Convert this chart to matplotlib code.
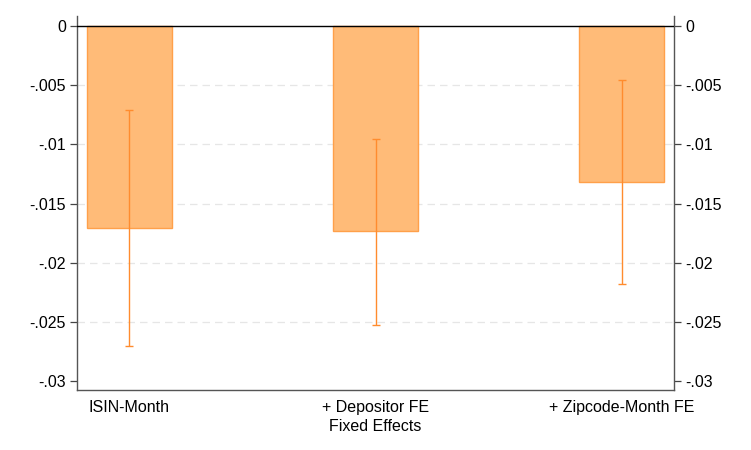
import numpy as np
import matplotlib
matplotlib.use("Agg")
import matplotlib.pyplot as plt
from matplotlib.ticker import FuncFormatter

# Datos
categorias = ["ISIN-Month", "+ Depositor FE", "+ Zipcode-Month FE"]
coeficientes = [-0.01707, -0.01733, -0.01318]
ic_sup = [-0.0071, -0.00955, -0.00456]
ic_inf = [-0.02704, -0.02527, -0.0218]
ticks_y = [0, -0.005, -0.01, -0.015, -0.02, -0.025, -0.03]

plt.rcParams['font.family'] = ['Liberation Sans', 'DejaVu Sans']


def fmt_stata(v, pos=None):
    if abs(v) < 1e-12:
        return "0"
    s = ("%g" % v)
    return s.replace("0.", ".")


fig = plt.figure(figsize=(7.51, 4.5), dpi=100)
ax = fig.add_axes([0.1025, 0.1333, 0.795, 0.8311])

x = np.arange(len(categorias))
ax.bar(x, coeficientes, width=0.345, color='#ffbb78', edgecolor='#ffa04a',
       linewidth=1.0, zorder=2)

coef = np.array(coeficientes)
err = [coef - np.array(ic_inf), np.array(ic_sup) - coef]
ax.errorbar(x, coef, yerr=err, fmt='none', ecolor='#ff8c2e', elinewidth=1.0,
            capsize=3, capthick=1.0, zorder=3)

ax.axhline(0, color='black', linewidth=1.0, zorder=4)

ax.set_xlim(-0.2134, 2.2134)
ax.set_ylim(-0.03076, 0.00085)
ax.set_yticks(ticks_y)
ax.yaxis.set_major_formatter(FuncFormatter(fmt_stata))

# lineas de referencia solo en los ticks interiores (como Stata)
for t in ticks_y[1:-1]:
    ax.axhline(t, color='#e6e6e6', linestyle=(0, (6, 4)), linewidth=0.9, zorder=0)

ax.set_xticks(x)
ax.set_xticklabels(categorias, fontsize=11.5)
ax.tick_params(axis='x', length=0, pad=7)
ax.tick_params(axis='y', labelsize=11.5, length=5, width=0.9, color='#444444',
               left=True, right=True, labelleft=True, labelright=True, pad=3)

for lado in ['left', 'right', 'bottom']:
    ax.spines[lado].set_color('#555555')
    ax.spines[lado].set_linewidth(1.0)
ax.spines['top'].set_visible(False)

ax.set_xlabel("Fixed Effects", fontsize=11.5, labelpad=3)

fig.savefig("out.png", dpi=100, facecolor='white')
